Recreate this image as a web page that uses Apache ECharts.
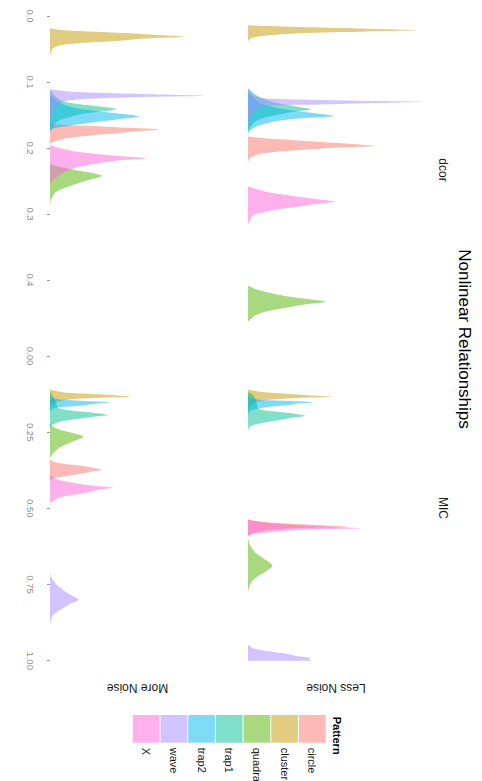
<!DOCTYPE html>
<html>
<head>
<meta charset="utf-8">
<script src="https://cdn.jsdelivr.net/npm/echarts@6/dist/echarts.min.js"></script>
<style>
html,body{margin:0;padding:0;width:482px;height:781px;overflow:hidden;background:#fff;}
#chart{position:absolute;left:0;top:0;width:781px;height:482px;transform-origin:0 0;transform:translate(482px,0) rotate(90deg);}
</style>
</head>
<body>
<div id="chart"></div>
<script>
// ---- data ----
const patterns = ['circle','cluster','quadratic','trap1','trap2','wave','X'];
const patternColors = ['#F8766D','#C49A00','#53B400','#00C094','#00B6EB','#A58AFF','#FB61D7'];
const measures = ['dcor','MIC'];
const noiseLevels = ['Less Noise','More Noise'];
const dcorTicks = [0,0.1,0.2,0.3,0.4];
const micTicks = [0,0.25,0.5,0.75,1];

// [value, density] — dcor, Less Noise
const dcorLess_circle = [[0.1826,0],[0.1841,4],[0.1856,10],[0.1886,25],[0.1920,42.5],[0.1970,63.5],[0.1992,45],[0.2030,26],[0.2080,7.5],[0.2152,1],[0.2227,0]];
const dcorLess_cluster = [[0.0136,0],[0.0144,2],[0.0167,25.5],[0.0189,55],[0.0217,84.5],[0.0235,60],[0.0262,26],[0.0303,7.5],[0.0338,1.5],[0.0389,0]];
const dcorLess_quadratic = [[0.4083,0],[0.4141,4],[0.4197,11],[0.4253,21],[0.4295,31.5],[0.4329,39],[0.4364,30],[0.4429,17.5],[0.4477,9],[0.4530,4],[0.4632,0]];
const dcorLess_trap1 = [[0.1091,0],[0.1197,4],[0.1303,12.5],[0.1374,25],[0.1414,31.5],[0.1455,22.5],[0.1526,10],[0.1591,4],[0.1697,1],[0.1803,0]];
const dcorLess_trap2 = [[0.1152,0],[0.1197,1.5],[0.1318,6],[0.1409,17.5],[0.1470,32.5],[0.1515,43],[0.1553,25],[0.1602,12.5],[0.1677,4],[0.1753,0]];
const dcorLess_wave = [[0.1106,0],[0.1197,2.5],[0.1247,7.5],[0.1273,37],[0.1288,65],[0.1298,87],[0.1318,62],[0.1341,36],[0.1364,9],[0.1424,4],[0.1545,1],[0.1652,0]];
const dcorLess_X = [[0.2583,0],[0.2606,2.5],[0.2662,9],[0.2727,22.5],[0.2780,36],[0.2814,43.5],[0.2848,34],[0.2889,25],[0.2924,16],[0.2965,9],[0.3000,4],[0.3041,2],[0.3167,0]];

// dcor, More Noise
const dcorMore_circle = [[0.1636,0],[0.1652,8.5],[0.1677,28.5],[0.1697,42.5],[0.1720,54.5],[0.1750,42.5],[0.1788,28.5],[0.1818,17.5],[0.1853,8.5],[0.1894,3],[0.1932,0]];
const dcorMore_cluster = [[0.0186,0],[0.0212,5],[0.0247,28.5],[0.0280,50],[0.0314,67],[0.0341,47.5],[0.0379,32.5],[0.0429,8.5],[0.0489,1.5],[0.0606,0]];
const dcorMore_quadratic = [[0.2242,0],[0.2288,5],[0.2333,12.5],[0.2379,21],[0.2424,26],[0.2470,21],[0.2515,16],[0.2561,11.5],[0.2621,6],[0.2682,2.5],[0.2788,0.5],[0.2894,0]];
const dcorMore_trap1 = [[0.1121,0],[0.1212,2.5],[0.1288,6],[0.1333,14],[0.1371,25],[0.1412,33.5],[0.1447,25],[0.1485,16],[0.1530,10],[0.1591,4],[0.1682,1],[0.1773,0]];
const dcorMore_trap2 = [[0.1197,0],[0.1303,4],[0.1394,12.5],[0.1455,27.5],[0.1523,44.5],[0.1561,35],[0.1591,27.5],[0.1621,19],[0.1652,11.5],[0.1702,2],[0.1742,0]];
const dcorMore_wave = [[0.1106,0],[0.1121,2.5],[0.1147,11.5],[0.1182,45],[0.1208,77],[0.1227,45],[0.1250,22.5],[0.1280,9],[0.1333,4],[0.1424,2],[0.1545,0.5],[0.1652,0]];
const dcorMore_X = [[0.1955,0],[0.2005,5],[0.2045,11],[0.2080,20],[0.2121,34],[0.2156,48],[0.2189,34],[0.2227,25],[0.2258,19],[0.2303,12.5],[0.2364,7.5],[0.2424,4],[0.2485,1.5],[0.2561,0]];

// MIC, Less Noise
const micLess_circle = [[0.5366,0],[0.5415,4],[0.5481,15],[0.5546,35],[0.5602,50],[0.5645,25],[0.5711,10],[0.5809,2.5],[0.5908,0]];
const micLess_cluster = [[0.1099,0],[0.1172,6],[0.1247,21],[0.1296,32.5],[0.1336,41.5],[0.1369,27.5],[0.1411,15],[0.1477,6],[0.1575,2.5],[0.1707,0.5],[0.1838,0]];
const micLess_quadratic = [[0.5973,0],[0.6203,1],[0.6367,2.5],[0.6498,4.5],[0.6639,7.5],[0.6761,10.5],[0.6892,12.25],[0.7023,10],[0.7131,7.5],[0.7253,4.5],[0.7351,2.5],[0.7516,1],[0.7745,0]];
const micLess_trap1 = [[0.1181,0],[0.1247,2],[0.1444,4],[0.1608,4.5],[0.1707,5],[0.1772,7],[0.1848,17.5],[0.1904,24],[0.1959,28.5],[0.2018,23],[0.2100,16],[0.2209,6],[0.2320,1],[0.2461,0]];
const micLess_trap2 = [[0.1313,0],[0.1395,2.5],[0.1444,7],[0.1477,21],[0.1520,33],[0.1559,25],[0.1608,20],[0.1657,12.5],[0.1716,6],[0.1805,1],[0.1904,0]];
const micLess_wave = [[0.9485,0],[0.9518,1],[0.9593,2.5],[0.9682,9],[0.9757,17.5],[0.9846,24],[0.9921,31],[1.0,31]];
const micLess_X = [[0.5366,0],[0.5415,3],[0.5497,12.5],[0.5579,32.5],[0.5655,56.5],[0.5694,30],[0.5766,12.5],[0.5842,3],[0.5908,0]];

// MIC, More Noise
const micMore_circle = [[0.3390,0],[0.3469,1.5],[0.3544,7.5],[0.3610,16.5],[0.3741,25.5],[0.3791,21],[0.3850,16.5],[0.3938,8.5],[0.4014,1.5],[0.4086,0]];
const micMore_cluster = [[0.1099,0],[0.1149,3],[0.1204,8.5],[0.1257,25],[0.1336,40],[0.1369,25],[0.1411,12.5],[0.1477,5],[0.1575,1.5],[0.1707,0]];
const micMore_quadratic = [[0.2232,0],[0.2297,1],[0.2396,4],[0.2484,8.5],[0.2560,13.5],[0.2648,16.65],[0.2740,14],[0.2888,8.5],[0.3019,4.5],[0.3193,1.5],[0.3364,0]];
const micMore_trap1 = [[0.1181,0],[0.1313,1.5],[0.1510,3],[0.1641,3.5],[0.1716,4.5],[0.1772,8.5],[0.1861,21.5],[0.1936,29],[0.1986,22.5],[0.2045,16.5],[0.2100,10],[0.2156,5],[0.2265,1],[0.2363,0]];
const micMore_trap2 = [[0.1346,0],[0.1411,3],[0.1444,8.5],[0.1487,20],[0.1520,30.5],[0.1559,24],[0.1631,15],[0.1674,6],[0.1723,1.5],[0.1805,0]];
const micMore_wave = [[0.7089,0],[0.7253,0.5],[0.7351,1.5],[0.7516,3.5],[0.7680,6.5],[0.7844,10.5],[0.8008,14.25],[0.8139,10],[0.8280,6.5],[0.8402,3.5],[0.8500,1.5],[0.8664,0.5],[0.8861,0]];
const micMore_X = [[0.3905,0],[0.3971,1.5],[0.4053,4],[0.4125,8.5],[0.4257,21.5],[0.4322,31.5],[0.4381,25],[0.4506,16.5],[0.4637,5],[0.4782,1],[0.4857,0]];

// ---- build ----
const FONT = '"Liberation Sans", Arial, Helvetica, sans-serif';
const panelData = [
  [dcorLess_circle,dcorLess_cluster,dcorLess_quadratic,dcorLess_trap1,dcorLess_trap2,dcorLess_wave,dcorLess_X],
  [micLess_circle,micLess_cluster,micLess_quadratic,micLess_trap1,micLess_trap2,micLess_wave,micLess_X],
  [dcorMore_circle,dcorMore_cluster,dcorMore_quadratic,dcorMore_trap1,dcorMore_trap2,dcorMore_wave,dcorMore_X],
  [micMore_circle,micMore_cluster,micMore_quadratic,micMore_trap1,micMore_trap2,micMore_wave,micMore_X]
];
const yMax = 87;
const rowTop = [60, 258];
const rowH = 174;
const colLeft = [16, 356];
const colW = [316.8, 304.7];
const colMax = [0.48, 1.0];
const colTicks = [dcorTicks, micTicks];
const colDec = [1, 2];

function rgba(hex, a){
  const r=parseInt(hex.slice(1,3),16),g=parseInt(hex.slice(3,5),16),b=parseInt(hex.slice(5,7),16);
  return 'rgba('+r+','+g+','+b+','+a+')';
}

const grids=[], xAxes=[], yAxes=[], series=[];
for(let r=0;r<2;r++){
  for(let c=0;c<2;c++){
    const gi=r*2+c;
    grids.push({left:colLeft[c], top:rowTop[r], width:colW[c], height:rowH, containLabel:false});
    const bottomRow = (r===1);
    xAxes.push({
      type:'value', gridIndex:gi, min:0, max:colMax[c], offset:10,
      axisLine:{show:false},
      splitLine:{show:false},
      axisTick:{show:bottomRow, length:3, customValues:colTicks[c], lineStyle:{color:'#9a9a9a', width:1}},
      axisLabel:{show:bottomRow, customValues:colTicks[c], margin:5, fontSize:9.5, color:'#8a8a8a', fontFamily:FONT,
        formatter:(v)=>Number(v).toFixed(colDec[c])}
    });
    yAxes.push({type:'value', gridIndex:gi, min:0, max:yMax, show:false, splitLine:{show:false}});
    patterns.forEach((p,k)=>{
      series.push({
        type:'line', name:p, xAxisIndex:gi, yAxisIndex:gi,
        data:panelData[gi][k], smooth:0.3, symbol:'none', showSymbol:false,
        color:patternColors[k],
        lineStyle:{width:0, opacity:0},
        areaStyle:{color:patternColors[k], opacity:0.5},
        silent:true, animation:false, z:2+k
      });
    });
  }
}

const chart = echarts.init(document.getElementById('chart'), null, {renderer:'svg', width:781, height:482});
chart.setOption({
  animation:false,
  backgroundColor:'#ffffff',
  textStyle:{fontFamily:FONT},
  grid:grids, xAxis:xAxes, yAxis:yAxes, series:series,
  legend:{
    orient:'vertical', left:715, top:156.3, padding:0, itemGap:1,
    itemWidth:27.7, itemHeight:26.7, icon:'rect', selectedMode:false,
    textStyle:{fontSize:11, color:'#1a1a1a', fontFamily:FONT},
    data:patterns.map((p,k)=>({name:p, icon:'rect', itemStyle:{color:rgba(patternColors[k],0.5), borderWidth:0}}))
  },
  graphic:[
    {type:'text', x:339, y:18, style:{text:'Nonlinear Relationships', fontSize:17, fill:'#000', align:'center', verticalAlign:'middle', fontFamily:FONT}},
    {type:'text', x:170, y:39.5, style:{text:measures[0], fontSize:12, fill:'#1a1a1a', align:'center', verticalAlign:'middle', fontFamily:FONT}},
    {type:'text', x:508, y:39.5, style:{text:measures[1], fontSize:12, fill:'#1a1a1a', align:'center', verticalAlign:'middle', fontFamily:FONT}},
    {type:'text', x:687.5, y:146, rotation:-Math.PI/2, style:{text:noiseLevels[0], fontSize:12, fill:'#1a1a1a', align:'center', verticalAlign:'middle', fontFamily:FONT}},
    {type:'text', x:687.5, y:344.5, rotation:-Math.PI/2, style:{text:noiseLevels[1], fontSize:12, fill:'#1a1a1a', align:'center', verticalAlign:'middle', fontFamily:FONT}},
    {type:'text', x:716.7, y:145.4, style:{text:'Pattern', fontSize:11, fontWeight:'bold', fill:'#000', align:'left', verticalAlign:'middle', fontFamily:FONT}}
  ]
});
</script>
</body>
</html>
